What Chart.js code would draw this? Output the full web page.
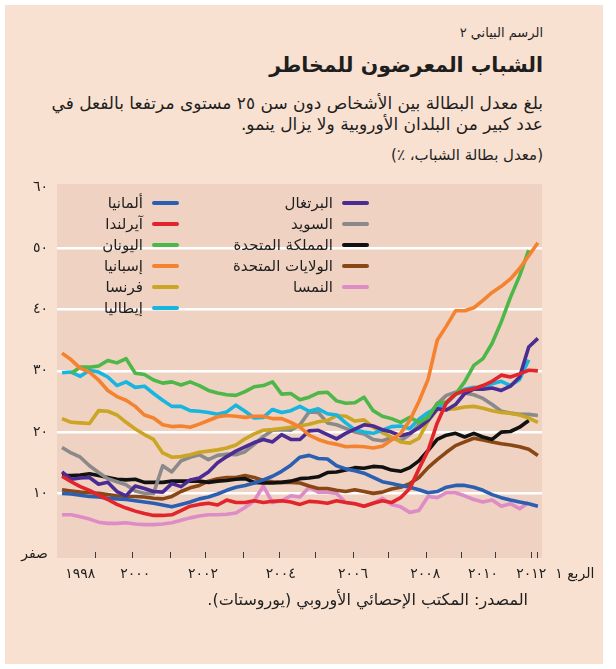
<!DOCTYPE html>
<html lang="ar">
<head>
<meta charset="utf-8">
<script src="https://cdn.jsdelivr.net/npm/chart.js@4.4.1/dist/chart.umd.min.js"></script>
<style>
  body { margin: 0; background: #ffffff; width: 616px; height: 669px; position: relative; overflow: hidden; font-family: "DejaVu Sans", sans-serif; color: #1e1e1e; }
  #panel { position: absolute; left: 5px; top: 5px; width: 598px; height: 659px; background: #f9e1d1; }
  .txt { position: absolute; right: 73px; text-align: right; white-space: nowrap; }
  #kicker { top: 24px; font-size: 13px; line-height: 18px; }
  #title { top: 52px; font-size: 20.5px; line-height: 26px; font-weight: bold; }
  #sub { top: 93px; font-size: 17px; line-height: 21px; }
  #units { top: 146px; font-size: 15px; line-height: 18px; }
  #source { top: 590px; right: 88px; font-size: 16px; line-height: 20px; }
  #wrap { position: absolute; left: 0; top: 170px; width: 616px; height: 420px; }
  .legCol { position: absolute; top: 192px; }
  .legRow { display: flex; justify-content: flex-end; align-items: center; height: 21px; font-size: 15px; }
  .legRow span { white-space: nowrap; }
  .legRow i { display: block; width: 27px; height: 4px; border-radius: 2px; margin-left: 9px; }
</style>
</head>
<body>
<div id="panel"></div>
<div class="txt" id="kicker" dir="rtl">الرسم البياني ٢</div>
<div class="txt" id="title" dir="rtl">الشباب المعرضون للمخاطر</div>
<div class="txt" id="sub" dir="rtl">بلغ معدل البطالة بين الأشخاص دون سن ٢٥ مستوى مرتفعا بالفعل في<br>عدد كبير من البلدان الأوروبية ولا يزال ينمو.</div>
<div class="txt" id="units" dir="rtl">(معدل بطالة الشباب، ٪)</div>
<div id="wrap"><canvas id="youthChart" width="616" height="420"></canvas></div>
<div class="legCol" id="legLeft" style="right:437px"></div>
<div class="legCol" id="legRight" style="right:247px"></div>
<div class="txt" id="source" dir="rtl">المصدر: المكتب الإحصائي الأوروبي (يوروستات).</div>
<script>
// quarterly youth unemployment, 1998 Q1 onward (index = quarter number)
const germany = [10.0,9.9,9.7,9.5,9.4,9.2,9.1,9.0,8.8,8.6,8.4,8.1,7.8,8.2,8.6,9.1,9.4,9.9,10.5,11.0,11.3,11.7,12.2,12.8,13.6,14.6,15.9,16.2,15.7,15.6,14.5,14.0,13.7,13.3,12.6,11.9,11.6,11.3,11.0,10.6,10.1,10.3,11.0,11.3,11.3,11.0,10.5,9.8,9.3,8.9,8.6,8.3,7.9];
const ireland = [12.8,11.9,11.1,10.5,9.7,9.0,8.2,7.6,7.1,6.7,6.4,6.4,6.5,7.2,7.9,8.2,8.4,8.1,8.9,8.5,8.5,8.8,8.5,8.7,8.8,8.6,8.2,8.7,8.6,8.4,8.8,8.5,8.3,7.9,8.4,8.8,8.5,9.3,10.8,14.0,17.0,21.5,24.8,26.2,26.8,27.1,27.6,28.3,29.3,29.0,29.5,30.1,30.0];
const greece = [null,29.6,30.6,30.6,30.8,31.7,31.3,32.0,29.6,29.4,28.5,28.0,28.2,27.7,28.2,27.6,26.8,26.4,26.1,26.0,26.6,27.4,27.6,28.2,26.2,26.3,25.3,25.7,26.4,26.5,25.1,24.7,24.8,25.7,23.5,22.6,22.2,21.6,22.4,21.6,22.4,24.7,24.9,26.2,28.2,30.9,32.0,34.5,38.0,42.0,45.5,49.7];
const spain = [32.9,31.8,30.4,29.8,28.5,26.8,25.8,25.2,24.2,22.8,22.3,21.2,20.9,21.0,20.8,21.3,21.9,22.5,22.7,22.6,22.4,22.6,22.6,22.2,22.2,21.6,20.8,19.5,18.8,18.3,18.0,17.6,17.7,17.6,17.4,17.7,18.7,19.8,21.9,25.0,28.6,35.0,37.3,39.8,39.8,40.3,41.5,42.8,43.8,45.0,46.7,48.8,50.9];
const france = [22.2,21.6,21.5,21.4,23.5,23.4,22.8,21.6,20.5,19.6,18.8,16.6,15.9,16.0,16.3,16.7,16.9,17.1,17.4,17.9,18.9,19.7,20.3,20.4,20.6,20.8,21.0,21.3,21.7,21.9,22.7,22.6,21.8,22.0,20.8,19.9,19.2,18.4,18.2,19.0,21.8,23.7,23.7,23.8,24.1,24.2,23.9,23.5,23.2,23.1,22.8,22.3,21.6];
const italy = [29.7,29.8,29.1,30.1,29.8,29.0,27.6,28.2,27.3,27.5,26.3,25.2,24.2,24.2,23.5,23.4,23.2,22.9,23.3,24.4,23.4,22.3,22.4,23.7,23.2,23.5,24.2,23.4,23.8,23.0,22.8,21.5,20.4,20.0,19.8,20.3,20.9,21.0,20.6,22.1,23.2,24.0,24.7,26.1,27.0,27.3,27.2,27.9,28.3,27.6,28.6,31.8];
const portugal = [13.5,12.3,12.5,12.6,11.5,11.8,10.3,9.6,11.2,10.8,10.3,10.2,11.6,11.1,12.2,12.5,13.5,15.0,16.0,16.9,17.6,18.3,18.8,18.4,19.6,18.8,18.8,20.2,20.3,19.6,18.9,19.8,20.5,21.2,21.0,20.4,20.0,19.4,19.8,20.7,21.9,23.8,23.6,24.5,26.3,27.0,27.0,27.2,26.8,27.5,29.0,33.9,35.3];
const sweden = [17.5,16.6,15.9,14.5,13.4,12.4,11.9,11.4,10.4,10.0,10.0,14.5,13.5,15.3,15.9,16.3,15.5,16.2,16.4,16.3,16.8,18.0,19.3,20.3,20.4,20.3,21.2,23.3,23.2,21.5,21.2,20.6,20.0,19.7,18.8,18.6,19.1,18.6,19.6,21.2,22.5,24.6,26.0,26.5,26.4,26.1,25.5,24.5,23.4,23.1,22.9,22.9,22.7];
const uk = [12.9,12.9,13.0,13.2,12.9,12.6,12.3,12.2,12.3,11.8,11.8,11.8,12.0,12.0,12.0,12.0,11.8,12.0,12.1,12.3,12.4,11.8,11.7,11.7,11.8,12.0,12.4,12.5,12.7,13.4,13.5,13.8,14.2,14.1,14.4,14.3,13.8,13.6,14.2,15.3,17.0,18.8,19.5,19.8,19.2,19.8,19.2,18.8,20.0,20.1,20.8,21.9];
const us = [10.6,10.4,10.2,10.1,10.0,9.8,9.6,9.5,9.5,9.4,9.2,9.1,9.5,10.3,10.9,11.3,12.0,12.4,12.6,12.6,12.9,12.6,12.1,11.9,11.8,11.8,11.7,11.2,10.8,10.8,10.5,10.3,10.6,10.3,10.0,10.2,10.7,11.0,11.6,12.6,14.2,15.5,16.7,17.8,18.4,19.0,18.7,18.4,18.1,17.9,17.6,17.2,16.2];
const austria = [6.5,6.5,6.2,5.8,5.3,5.1,5.1,5.2,5.0,4.9,4.9,5.0,5.2,5.6,6.0,6.3,6.5,6.5,6.6,6.8,7.7,8.8,11.2,8.5,8.8,9.6,9.4,11.0,10.2,10.2,10.0,8.5,8.3,7.9,8.4,9.2,8.2,7.8,6.9,7.2,9.5,9.3,10.1,10.1,9.6,9.0,8.6,8.9,7.9,8.3,7.5,8.5];

const seriesNames = ["ألمانيا","آيرلندا","اليونان","إسبانيا","فرنسا","إيطاليا","البرتغال","السويد","المملكة المتحدة","الولايات المتحدة","النمسا"];
const seriesValues = [germany, ireland, greece, spain, france, italy, portugal, sweden, uk, us, austria];
const seriesColors = ["#2b5fb2","#e2242b","#4db749","#f5822f","#cba524","#18b5df","#4b2c93","#8a8a8a","#111111","#8a4716","#dd8cc5"];
// draw order: lower = on top
const drawOrder = [2,0,4,3,7,6,5,8,9,10,11];

const yTickValues = [0,10,20,30,40,50,60];
const yTickText = ["صفر","١٠","٢٠","٣٠","٤٠","٥٠","٦٠"];
// year boundary tick marks (in quarters since 1998 Q1)
const yearTickAt = [3.7,7.7,11.8,15.7,19.8,23.8,27.7,31.8,35.7,39.8,43.6,47.4,51.3,52];
const xLabelText = ["١٩٩٨","٢٠٠٠","٢٠٠٢","٢٠٠٤","٢٠٠٦","٢٠٠٨","٢٠١٠","الربع ١  ٢٠١٢"];
const xLabelAt = [2.0,8.0,15.4,23.9,31.8,39.7,46.0,53.9];

const plotBg = {
  id: "plotBg",
  beforeDraw(chart) {
    const a = chart.chartArea;
    const c = chart.ctx;
    c.save();
    c.fillStyle = "#efd2c2";
    c.fillRect(a.left, a.top, a.right - a.left, a.bottom - a.top);
    c.restore();
  }
};

const datasets = seriesValues.map((vals, k) => ({
  label: seriesNames[k],
  data: vals.map((v, i) => ({ x: i, y: v })),
  borderColor: seriesColors[k],
  backgroundColor: seriesColors[k],
  borderWidth: 3.6,
  pointRadius: 0,
  tension: 0,
  borderJoinStyle: "round",
  borderCapStyle: "butt",
  spanGaps: false,
  order: drawOrder[k]
}));

const font = { family: "DejaVu Sans", size: 14 };

new Chart(document.getElementById("youthChart"), {
  type: "line",
  data: { datasets },
  plugins: [plotBg],
  options: {
    responsive: false,
    devicePixelRatio: 1,
    animation: false,
    layout: { padding: { left: 12, right: 74, top: 14, bottom: 2 } },
    plugins: { legend: { display: false }, tooltip: { enabled: false } },
    scales: {
      x: {
        type: "linear",
        position: "bottom",
        weight: 0,
        min: -0.55,
        max: 52.45,
        afterBuildTicks: (s) => { s.ticks = yearTickAt.map((v) => ({ value: v })); },
        afterFit: (s) => { s.height = 0; s.paddingLeft = 0; s.paddingRight = 0; },
        ticks: { display: false },
        border: { display: false },
        grid: { drawOnChartArea: false, drawTicks: true, tickLength: -6, color: "#3a3a3a", lineWidth: 1 }
      },
      x2: {
        type: "linear",
        position: "bottom",
        weight: 1,
        min: -0.55,
        max: 52.45,
        afterBuildTicks: (s) => { s.ticks = xLabelAt.map((v) => ({ value: v })); },
        afterFit: (s) => { s.height = 30; s.paddingLeft = 0; s.paddingRight = 0; },
        border: { display: false },
        grid: { display: false, drawTicks: false },
        ticks: {
          autoSkip: false,
          maxRotation: 0,
          padding: 8,
          color: "#1e1e1e",
          font,
          callback: (v, i) => xLabelText[i]
        }
      },
      y: {
        min: -0.55,
        max: 60.5,
        afterBuildTicks: (s) => { s.ticks = yTickValues.map((v) => ({ value: v })); },
        afterFit: (s) => { s.width = 45; s.paddingTop = 0; s.paddingBottom = 0; },
        border: { display: false },
        grid: {
          drawTicks: false,
          lineWidth: 2.5,
          color: (ctx) => (ctx.tick && ctx.tick.value > 0 && ctx.tick.value < 60 ? "#ffffff" : "rgba(0,0,0,0)")
        },
        ticks: {
          padding: 9,
          color: "#1e1e1e",
          font,
          callback: (v) => yTickText[yTickValues.indexOf(v)]
        }
      }
    }
  }
});

// legend, two columns as in the print version
function fillLegend(el, from, to) {
  for (let k = from; k < to; k++) {
    const row = document.createElement("div");
    row.className = "legRow";
    const sp = document.createElement("span");
    sp.textContent = seriesNames[k];
    sp.dir = "rtl";
    const sw = document.createElement("i");
    sw.style.background = seriesColors[k];
    row.appendChild(sp);
    row.appendChild(sw);
    el.appendChild(row);
  }
}
fillLegend(document.getElementById("legLeft"), 0, 6);
fillLegend(document.getElementById("legRight"), 6, 11);
</script>
</body>
</html>
